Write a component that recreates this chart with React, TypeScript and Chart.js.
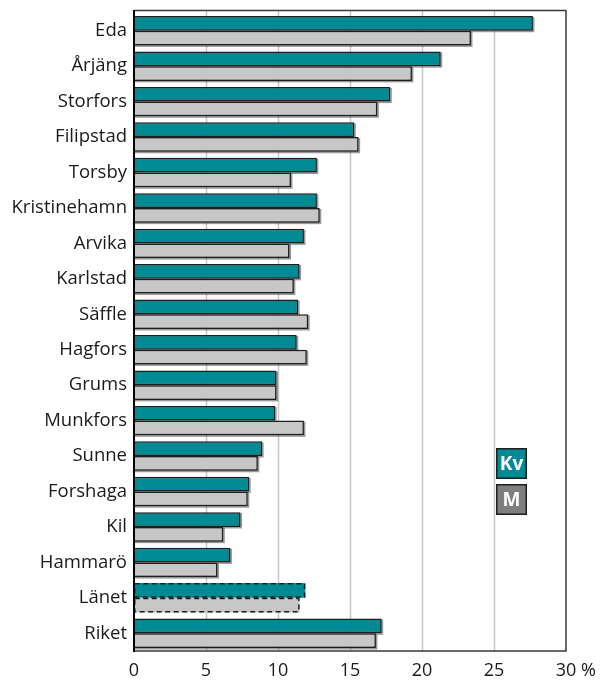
import React, { useEffect, useRef } from "react";
import { Chart, registerables } from "chart.js";

Chart.register(...registerables);

const categories = ["Eda", "Årjäng", "Storfors", "Filipstad", "Torsby", "Kristinehamn", "Arvika", "Karlstad", "Säffle", "Hagfors", "Grums", "Munkfors", "Sunne", "Forshaga", "Kil", "Hammarö", "Länet", "Riket"];
const kvValues = [27.7, 21.3, 17.8, 15.3, 12.7, 12.7, 11.8, 11.5, 11.4, 11.3, 9.9, 9.8, 8.9, 8.0, 7.4, 6.7, 11.9, 17.2];
const mValues = [23.4, 19.3, 16.9, 15.6, 10.9, 12.9, 10.8, 11.1, 12.1, 12.0, 9.9, 11.8, 8.6, 7.9, 6.2, 5.8, 11.5, 16.8];
const xTicks = [0, 5, 10, 15, 20, 25, 30];
const legendLabels = ["Kv", "M"];
const dashedCategory = "Länet";

const TEAL = "#008a94";
const GRAY = "#c6c7c6";
const LEGEND_GRAY = "#7f7f7f";
const EDGE = "#1e1e1e";
const FONT = "'Open Sans', 'Noto Sans', sans-serif";

export default function App() {
  const ref = useRef<HTMLCanvasElement | null>(null);

  useEffect(() => {
    document.body.style.margin = "0";
    const canvas = ref.current;
    if (!canvas) return;
    const dashIdx = categories.indexOf(dashedCategory);
    const frameTop = 10;

    const plugin = {
      id: "custom",
      beforeDatasetsDraw(chart: any) {
        const ctx = chart.ctx;
        const { bottom } = chart.chartArea;
        const xs = chart.scales.x;
        ctx.save();
        ctx.strokeStyle = "#c8c8c8";
        ctx.lineWidth = 1.5;
        xTicks.forEach((t) => {
          if (t === xTicks[0] || t === xTicks[xTicks.length - 1]) return;
          const px = Math.round(xs.getPixelForValue(t)) + 0.5;
          ctx.beginPath();
          ctx.moveTo(px, frameTop);
          ctx.lineTo(px, bottom);
          ctx.stroke();
        });
        ctx.fillStyle = "rgba(70,70,70,0.55)";
        chart.data.datasets.forEach((_: any, di: number) => {
          const meta = chart.getDatasetMeta(di);
          meta.data.forEach((el: any, i: number) => {
            if (i === dashIdx) return;
            const x0 = Math.min(el.base, el.x);
            const x1 = Math.max(el.base, el.x);
            const y0 = el.y - el.height / 2;
            ctx.fillRect(x0 + 1, y0 + 1, x1 - x0 + 0.5, el.height + 0.5);
          });
        });
        ctx.restore();
      },
      afterDatasetsDraw(chart: any) {
        const ctx = chart.ctx;
        const { left, right, bottom } = chart.chartArea;
        ctx.save();
        ctx.strokeStyle = EDGE;
        ctx.lineWidth = 1.5;
        ctx.setLineDash([5, 3.5]);
        chart.data.datasets.forEach((_: any, di: number) => {
          const el: any = chart.getDatasetMeta(di).data[dashIdx];
          if (!el) return;
          const x0 = Math.min(el.base, el.x);
          const x1 = Math.max(el.base, el.x);
          const y0 = el.y - el.height / 2;
          ctx.strokeRect(x0 + 0.75, y0 + 0.75, x1 - x0 - 1.5, el.height - 1.5);
        });
        ctx.setLineDash([]);
        ctx.strokeStyle = "#3a3a3a";
        ctx.lineWidth = 1.5;
        ctx.beginPath();
        ctx.moveTo(left, frameTop + 0.5);
        ctx.lineTo(right, frameTop + 0.5);
        ctx.lineTo(right, bottom);
        ctx.lineTo(left, bottom);
        ctx.stroke();
        ctx.strokeStyle = "#000";
        ctx.lineWidth = 2;
        ctx.beginPath();
        ctx.moveTo(left, frameTop);
        ctx.lineTo(left, bottom + 1);
        ctx.stroke();
        ctx.restore();
      },
      afterDraw(chart: any) {
        const ctx = chart.ctx;
        const xs = chart.scales.x;
        ctx.save();
        ctx.font = `18px ${FONT}`;
        ctx.fillStyle = "#1a1a1a";
        ctx.textBaseline = "middle";
        ctx.textAlign = "left";
        const last = xTicks[xTicks.length - 1];
        const w = ctx.measureText(String(last)).width;
        const sp = ctx.measureText(" ").width;
        ctx.fillText("%", xs.getPixelForValue(last) + w / 2 + sp, 671);
        const colors = [TEAL, LEGEND_GRAY];
        const boxX = 496;
        const boxY = [448, 484];
        const size = 31;
        legendLabels.forEach((lab, i) => {
          ctx.fillStyle = colors[i];
          ctx.fillRect(boxX, boxY[i], size, size);
          ctx.strokeStyle = EDGE;
          ctx.lineWidth = 1.5;
          ctx.strokeRect(boxX + 0.75, boxY[i] + 0.75, size - 1.5, size - 1.5);
          ctx.fillStyle = "#ffffff";
          ctx.font = `bold 19px ${FONT}`;
          ctx.textAlign = "center";
          ctx.textBaseline = "middle";
          ctx.fillText(lab, boxX + size / 2, boxY[i] + size / 2 + 1);
        });
        ctx.restore();
      },
    };

    const chart = new Chart(canvas, {
      type: "bar",
      data: {
        labels: categories,
        datasets: [
          {
            label: legendLabels[0],
            data: kvValues,
            backgroundColor: TEAL,
            borderColor: EDGE,
            borderWidth: (c: any) => (c.dataIndex === dashIdx ? 0 : 1.5),
            categoryPercentage: 0.83,
            barPercentage: 1,
          },
          {
            label: legendLabels[1],
            data: mValues,
            backgroundColor: GRAY,
            borderColor: EDGE,
            borderWidth: (c: any) => (c.dataIndex === dashIdx ? 0 : 1.5),
            categoryPercentage: 0.83,
            barPercentage: 1,
          },
        ],
      },
      options: {
        indexAxis: "y",
        animation: false,
        responsive: false,
        maintainAspectRatio: false,
        layout: { padding: { top: 13, right: 35, left: 0, bottom: 0 } },
        plugins: { legend: { display: false }, tooltip: { enabled: false } },
        scales: {
          x: {
            min: 0,
            max: 30,
            afterFit: (s: any) => {
              s.height = 31;
              s.paddingLeft = 0;
              s.paddingRight = 0;
            },
            ticks: {
              stepSize: 5,
              color: "#1a1a1a",
              font: { family: FONT, size: 18 },
              padding: 9,
              maxRotation: 0,
            },
            grid: { display: false, drawTicks: false },
            border: { display: false },
          },
          y: {
            afterFit: (s: any) => {
              s.width = 134;
              s.paddingTop = 0;
              s.paddingBottom = 0;
            },
            ticks: {
              color: "#1a1a1a",
              font: { family: FONT, size: 18.5 },
              padding: 7,
            },
            grid: { display: false, drawTicks: false },
            border: { display: false },
          },
        },
      },
      plugins: [plugin],
    } as any);

    return () => chart.destroy();
  }, []);

  return (
    <div style={{ width: 601, height: 682, position: "relative" }}>
      <canvas ref={ref} width={601} height={682} style={{ display: "block" }} />
    </div>
  );
}
